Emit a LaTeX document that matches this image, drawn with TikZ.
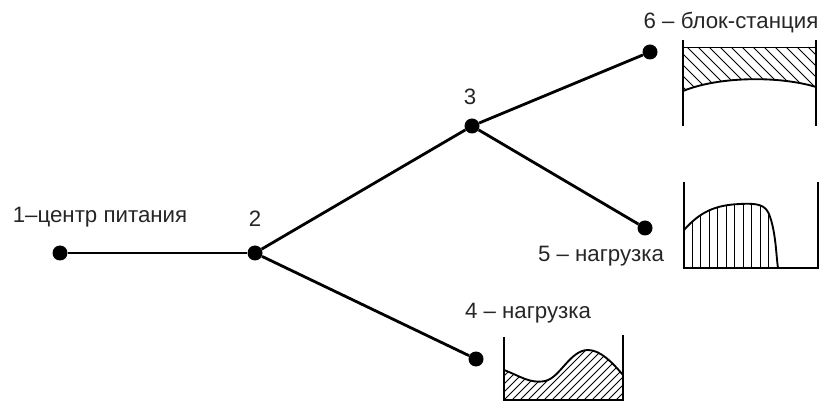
\documentclass[tikz,border=0pt]{standalone}
\usepackage{fontspec}
\setmainfont{Liberation Sans}
\definecolor{netLine}{HTML}{000000}
\tikzset{
  bus/.style={circle, fill=netLine, inner sep=0pt, minimum size=0.45cm},
  tag/.style={font=\fontsize{19}{21}\selectfont, inner sep=1pt, text=black!85},
  feeder/.style={netLine, line width=2.4pt},
  frame/.style={netLine, line width=1.6pt},
  hatch/.style={netLine, line width=0.7pt}
}

\begin{document}
\begin{tikzpicture}[x=0.03cm, y=-0.03cm]
  \useasboundingbox (0,0) rectangle (819,405);
  \node[bus] (P1) at (60,253) {};
  \node[bus] (P2) at (255,253) {};
  \node[bus] (P3) at (472,126) {};
  \node[bus] (P4) at (476,359) {};
  \node[bus] (P5) at (645,228) {};
  \node[bus] (P6) at (650,52) {};
  \node[tag] (L1) at (100,217) {1–центр питания};
  \node[tag] (L2) at (255,219) {2};
  \node[tag] (L3) at (470,97) {3};
  \node[tag] (L4) at (528,313) {4 – нагрузка};
  \node[tag] (L5) at (601,256) {5 – нагрузка};
  \node[tag] (L6) at (731,23) {6 – блок-станция};
  \draw[feeder] (P1) -- (P2);
  \draw[feeder] (P2) -- (P3);
  \draw[feeder] (P3) -- (P6);
  \draw[feeder] (P3) -- (P5);
  \draw[feeder] (P2) -- (P4);
  % graph of block station
  \begin{scope}
    \clip (683,47) -- (816,47) -- (816,87) .. controls (780,76) and (720,76) .. (683,91) -- cycle;
    \foreach \x in {610,621,...,820} \draw[hatch] (\x,47) -- (\x+50,97);
  \end{scope}
  \draw[hatch] (683,47) -- (816,47);
  \draw[frame] (683,91) .. controls (720,76) and (780,76) .. (816,87);
  \draw[frame] (683,40) -- (683,126);
  \draw[frame] (816,40) -- (816,126);
  % graph of load 5
  \begin{scope}
    \clip (684,268) -- (684,230) .. controls (700,212) and (715,205) .. (740,204)
      .. controls (758,203) and (765,205) .. (769,214) .. controls (776,232) and (776,255) .. (778,268) -- cycle;
    \foreach \x in {692,700.5,...,780} \draw[hatch] (\x,268) -- (\x,200);
  \end{scope}
  \draw[frame] (684,230) .. controls (700,212) and (715,205) .. (740,204)
      .. controls (758,203) and (765,205) .. (769,214) .. controls (776,232) and (776,255) .. (778,268);
  \draw[frame] (684,182) -- (684,268) -- (818,268) -- (818,182);
  % graph of load 4
  \begin{scope}
    \clip (504,400) -- (504,370) .. controls (520,376) and (530,384) .. (545,381)
      .. controls (560,378) and (570,350) .. (588,350) .. controls (600,350) and (612,362) .. (623,375) -- (623,400) -- cycle;
    \foreach \x in {440,448,...,630} \draw[hatch] (\x,400) -- (\x+60,340);
  \end{scope}
  \draw[frame] (504,370) .. controls (520,376) and (530,384) .. (545,381)
      .. controls (560,378) and (570,350) .. (588,350) .. controls (600,350) and (612,362) .. (623,375);
  \draw[frame] (504,337) -- (504,400) -- (623,400) -- (623,335);
\end{tikzpicture}
\end{document}
